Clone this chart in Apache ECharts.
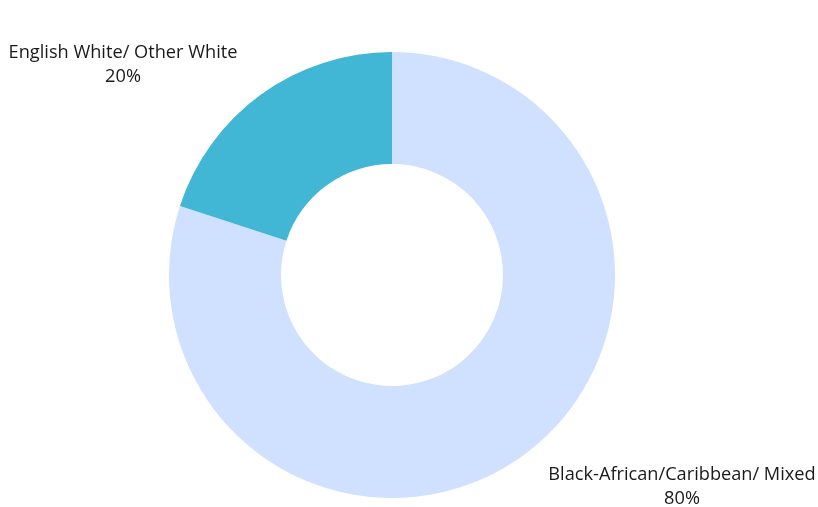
<!DOCTYPE html>
<html>
<head>
<meta charset="utf-8">
<script src="https://cdn.jsdelivr.net/npm/echarts@6/dist/echarts.min.js"></script>
<style>
  html, body { margin: 0; padding: 0; background: #fff; }
  #chart { width: 818px; height: 507px; }
</style>
</head>
<body>
<div id="chart"></div>
<script>
// 数据
const categories = ['Black-African/Caribbean/ Mixed', 'English White/ Other White'];
const values = [80, 20];
const colors = ['#CFE1FE', '#41B7D5'];

// 标签位置（右下 / 左上）
const labelSpots = [
  { x: 682, y: 487 },
  { x: 123, y: 65 },
];

const myChart = echarts.init(document.getElementById('chart'));

const data = categories.map((name, i) => ({
  name,
  value: values[i],
  itemStyle: { color: colors[i] },
}));

const option = {
  animation: false,
  series: [
    {
      type: 'pie',
      center: [392, 275],
      radius: [111, 223],
      startAngle: 90,
      clockwise: true,
      label: {
        show: true,
        position: 'inside',
        formatter: '{b}\n{d}%',
        color: '#1a1a1a',
        fontSize: 18.2,
        lineHeight: 24,
        fontFamily: 'Open Sans',
        align: 'center',
        overflow: 'none',
      },
      labelLine: { show: false },
      labelLayout: params => {
        const spot = labelSpots[params.dataIndex];
        return { x: spot.x, y: spot.y, align: 'center', verticalAlign: 'middle' };
      },
      emphasis: { disabled: true },
      data,
    },
  ],
};

myChart.setOption(option);
</script>
</body>
</html>
